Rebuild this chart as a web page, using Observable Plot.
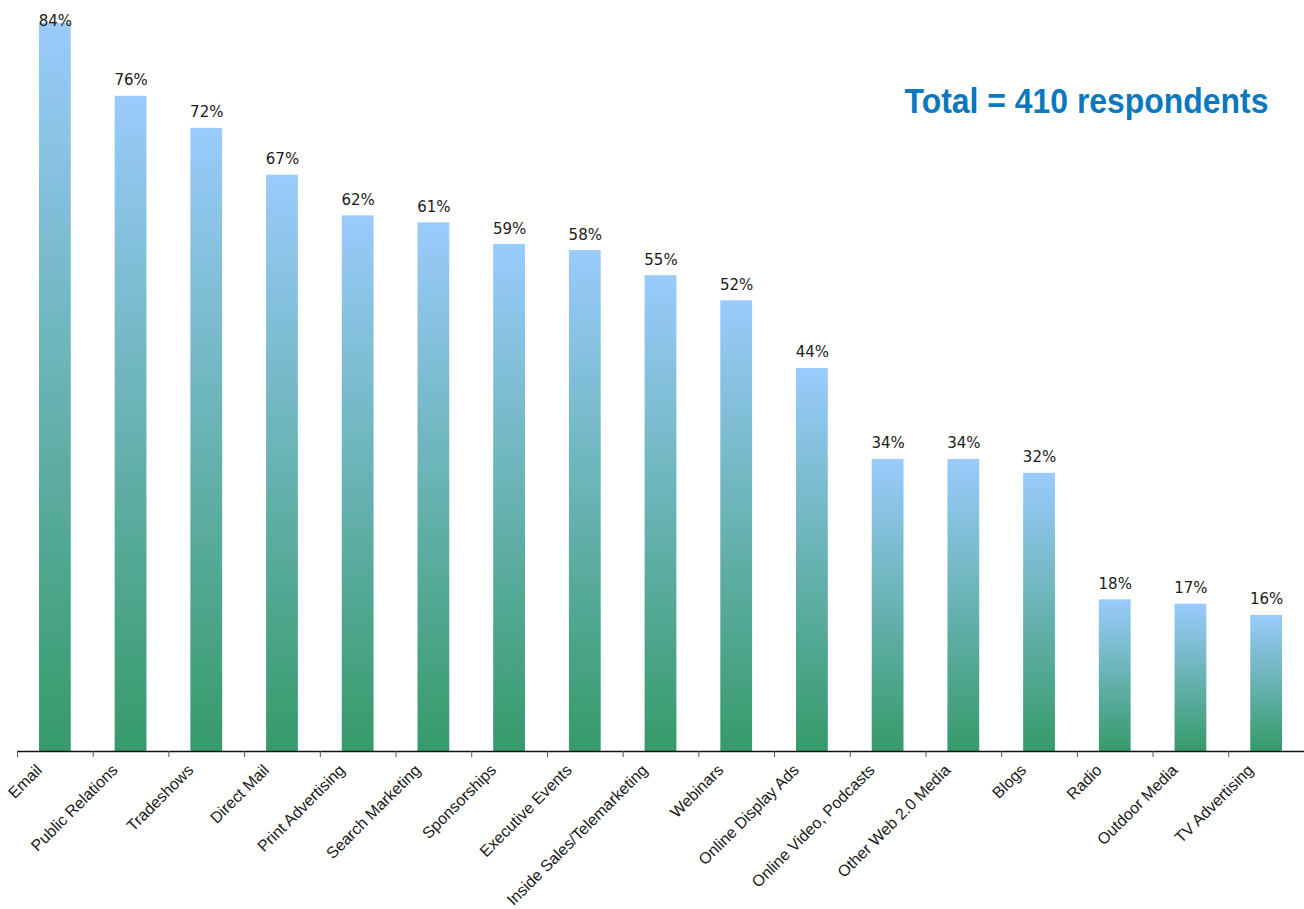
<!DOCTYPE html>
<html><head><meta charset="utf-8">
<script src="https://cdn.jsdelivr.net/npm/d3@7"></script>
<script src="https://cdn.jsdelivr.net/npm/@observablehq/plot@0.6"></script>
<style>
html,body{margin:0;padding:0;background:#fff}
#chart svg{display:block}
</style>
</head><body><div id="chart"></div>
<script>
const categories = ["Email","Public Relations","Tradeshows","Direct Mail","Print Advertising","Search Marketing","Sponsorships","Executive Events","Inside Sales/Telemarketing","Webinars","Online Display Ads","Online Video, Podcasts","Other Web 2.0 Media","Blogs","Radio","Outdoor Media","TV Advertising"];
const values = [84.0, 75.6, 71.9, 66.5, 61.8, 61.0, 58.5, 57.8, 54.9, 52.0, 44.2, 33.7, 33.7, 32.1, 17.5, 17.0, 15.7];
const titleText = ["Total = 410 respondents"];

const data = categories.map((category, i) => ({category, value: values[i]}));

const W = 1304, H = 909, mL = 17, mR = 0, mT = 23, mB = 158;
const step = (W - mL - mR) / categories.length;

const plot = Plot.plot({
  width: W, height: H,
  marginLeft: mL, marginRight: mR, marginTop: mT, marginBottom: mB,
  style: {background: "#fff", color: "#222"},
  x: {domain: categories, paddingInner: 0.58, paddingOuter: 0.29, round: false, label: null},
  y: {domain: [0, 84], label: null, axis: null},
  marks: [
    Plot.barY(data, {x: "category", y: "value", fill: "#99ccff"}),
    Plot.ruleY([0], {stroke: "#111", strokeWidth: 1.3}),
    Plot.axisX({tickSize: 6, text: null, dx: -step / 2, stroke: "#555"}),
    Plot.axisX({tickSize: 0, tickPadding: 16, tickRotate: -45, dx: -16,
      fontSize: 16, fontFamily: "Liberation Sans, Arial, sans-serif", fill: "#1a1a1a", label: null}),
    Plot.text(data, {x: "category", y: "value", text: d => Math.round(d.value) + "%",
      lineAnchor: "bottom", dy: -11, fontSize: 15, fontFamily: "DejaVu Sans, sans-serif", fill: "#1a1a1a",
      render: (index, scales, values, dims, context, next) =>
        next(index, scales, {...values, y: Float64Array.from(values.y, v => Math.max(v, dims.marginTop + 13))}, dims, context)}),
    Plot.text(titleText, {frameAnchor: "top-right", dx: -36, dy: 89, lineAnchor: "bottom",
      fontSize: 36, fontWeight: "bold", fontFamily: "Liberation Sans, Arial, sans-serif",
      fill: "#0a78be", className: "total-title"})
  ]
});

const svg = d3.select(plot);
const defs = svg.insert("defs", ":first-child");
const grad = defs.append("linearGradient").attr("id", "barGrad")
  .attr("x1", 0).attr("y1", 0).attr("x2", 0).attr("y2", 1);
grad.append("stop").attr("offset", "0%").attr("stop-color", "#9acbfd");
grad.append("stop").attr("offset", "100%").attr("stop-color", "#369a69");
svg.select('g[aria-label="bar"]').attr("fill", "url(#barGrad)");
svg.selectAll(".total-title text").each(function() {
  const t = this.getAttribute("transform") || "";
  this.setAttribute("transform", (t + " scale(0.887,1)").trim());
});

document.getElementById("chart").appendChild(plot);
</script>
</body></html>
